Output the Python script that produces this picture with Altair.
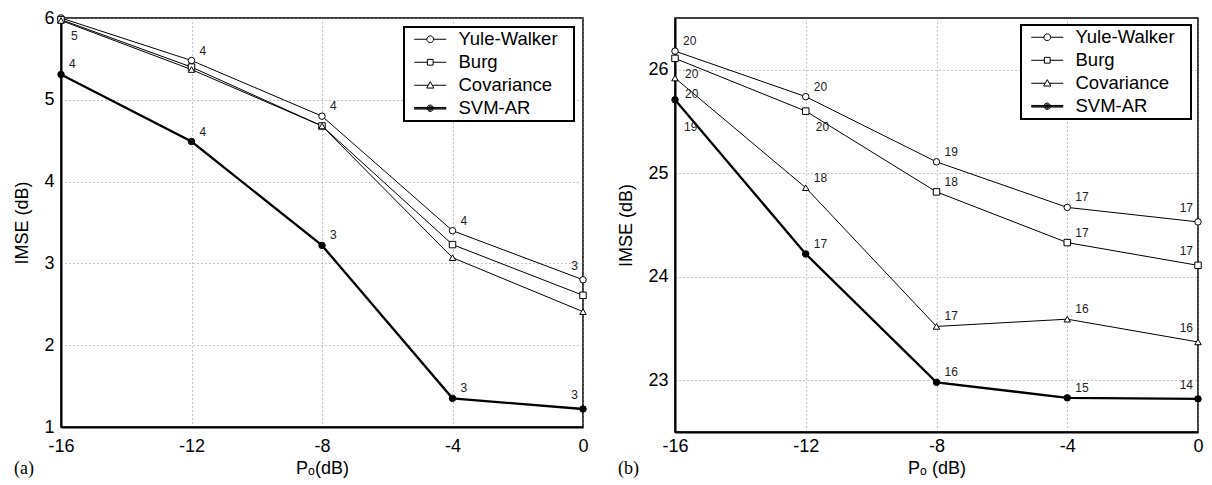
import altair as alt
import pandas as pd

# ---------------- data ----------------
x_po = [-16, -12, -8, -4, 0]
series_names = ["Yule-Walker", "Burg", "Covariance", "SVM-AR"]

# panel (a)
a_yw = [6.00, 5.48, 4.80, 3.40, 2.80]
a_burg = [5.98, 5.40, 4.68, 3.23, 2.61]
a_cov = [5.97, 5.37, 4.68, 3.07, 2.41]
a_svm = [5.31, 4.49, 3.22, 1.35, 1.22]
a_yw_lab = ["", "4", "4", "4", "3"]
a_burg_lab = ["", "", "", "", ""]
a_cov_lab = ["5", "", "", "", ""]
a_svm_lab = ["4", "4", "3", "3", "3"]
a_yw_pos = ["", "ur", "ur", "ur", "ul"]
a_burg_pos = ["", "", "", "", ""]
a_cov_pos = ["lr", "", "", "", ""]
a_svm_pos = ["ur", "ur", "ur", "ur", "ul"]

# panel (b)
b_yw = [26.18, 25.74, 25.11, 24.67, 24.53]
b_burg = [26.11, 25.60, 24.82, 24.33, 24.11]
b_cov = [25.92, 24.86, 23.52, 23.59, 23.37]
b_svm = [25.71, 24.22, 22.98, 22.83, 22.82]
b_yw_lab = ["20", "20", "19", "17", "17"]
b_burg_lab = ["20", "20", "18", "17", "17"]
b_cov_lab = ["20", "18", "17", "16", "16"]
b_svm_lab = ["19", "17", "16", "15", "14"]
b_yw_pos = ["ur", "ur", "ur", "ur", "ul"]
b_burg_pos = ["lr", "lr", "ur", "ur", "ul"]
b_cov_pos = ["lr", "ur", "ur", "ur", "ul"]
b_svm_pos = ["lr2", "ur", "ur", "ur", "ul"]

a_y_ticks = [1, 2, 3, 4, 5, 6]
b_y_ticks = [23, 24, 25, 26]

FONT = "Liberation Sans"

# legend symbols: line + marker drawn with strokes only (unit = sqrt(size)/2 px)
legend_paths = [
    "M-0.25,0H1.33M2.17,0H3.75M2.17,0A0.42,0.42,0,1,1,1.33,0A0.42,0.42,0,1,1,2.17,0Z",
    "M-0.25,0H1.39M2.11,0H3.75M1.39,-0.36H2.11V0.36H1.39Z",
    "M-0.25,0H1.5M2.0,0H3.75M1.75,-0.45L2.2,0.35H1.3Z",
    "M-0.25,0H3.75M-0.25,-0.1H3.75M-0.25,0.1H3.75"
    "M2.15,0A0.4,0.4,0,1,1,1.35,0A0.4,0.4,0,1,1,2.15,0"
    "M2.02,0A0.27,0.27,0,1,1,1.48,0A0.27,0.27,0,1,1,2.02,0"
    "M1.89,0A0.14,0.14,0,1,1,1.61,0A0.14,0.14,0,1,1,1.89,0",
]

offsets = {
    "ur": dict(align="left", dx=8, dy=-10),
    "lr": dict(align="left", dx=10, dy=16),
    "lr2": dict(align="left", dx=9, dy=27),
    "ul": dict(align="right", dx=-5, dy=-14),
}


def build_df(vals, labs, poss):
    rows = []
    for name, v, lb, ps in zip(series_names, vals, labs, poss):
        for x, y, l, p in zip(x_po, v, lb, ps):
            rows.append({"x": x, "y": y, "series": name, "lab": l, "pos": p})
    return pd.DataFrame(rows)


def panel(vals, labs, poss, ydom, yticks, w, h, tag, xlab_pad, xtitle_pad, xtitle, leg_off):
    df = build_df(vals, labs, poss)
    base = alt.Chart(df)
    xenc = alt.X("x:Q", scale=alt.Scale(domain=[-16, 0], nice=False),
                 axis=alt.Axis(values=x_po, title=xtitle, labelExpr="datum.value + ''",
                               labelFlush=False,
                               labelPadding=xlab_pad, titlePadding=xtitle_pad))
    yenc = alt.Y("y:Q", scale=alt.Scale(domain=ydom, nice=False, zero=False),
                 axis=alt.Axis(values=yticks, title="IMSE (dB)", labelExpr="datum.value + ''",
                               titlePadding=12))
    thin = base.transform_filter(alt.datum.series != "SVM-AR").mark_line(
        color="black", strokeWidth=1
    ).encode(x=xenc, y=yenc, detail="series:N")
    thick = base.transform_filter(alt.datum.series == "SVM-AR").mark_line(
        color="black", strokeWidth=2.3
    ).encode(x="x:Q", y="y:Q")
    pts = base.mark_point(filled=True, stroke="black", strokeWidth=1, size=42, opacity=1).encode(
        x="x:Q", y="y:Q",
        shape=alt.Shape("series:N", scale=alt.Scale(domain=series_names,
                                                    range=["circle", "square", "triangle-up", "circle"]),
                        legend=None),
        fill=alt.Fill("series:N", scale=alt.Scale(domain=series_names,
                                                  range=["white", "white", "white", "black"]),
                      legend=None),
    )
    texts = []
    for code, o in offsets.items():
        texts.append(
            base.transform_filter(alt.datum.pos == code).mark_text(
                font=FONT, fontSize=12, color="#222", baseline="middle", **o
            ).encode(x="x:Q", y="y:Q", text="lab:N")
        )
    leg = alt.Legend(title=".", titleOrient="right", titleColor="white", titleFontSize=6,
                     titlePadding=11,
                     orient="top-right", offset=leg_off, padding=3, rowPadding=4,
                     labelFont=FONT, labelFontSize=18.5, labelColor="black", labelOffset=33,
                     symbolSize=256, symbolStrokeColor="black", symbolStrokeWidth=1,
                     symbolFillColor="transparent", strokeColor="black", fillColor="white")
    legend_layer = base.transform_filter("false").mark_point(
        color="black", filled=False, opacity=1, strokeWidth=1
    ).encode(
        shape=alt.Shape("series:N", scale=alt.Scale(domain=series_names, range=legend_paths), legend=leg),
    )
    ch = alt.layer(thin, thick, pts, *texts, legend_layer).resolve_scale(
        shape="independent"
    ).properties(
        width=w, height=h,
        title=alt.TitleParams(tag, orient="bottom", anchor="start", frame="bounds",
                              font="Liberation Serif", fontSize=18, fontWeight="normal",
                              color="black", offset=-17),
    )
    return ch


left = panel([a_yw, a_burg, a_cov, a_svm], [a_yw_lab, a_burg_lab, a_cov_lab, a_svm_lab],
             [a_yw_pos, a_burg_pos, a_cov_pos, a_svm_pos], [1, 6], a_y_ticks, 522, 409, "(a)",
             10, 4, "Pₒ(dB)", 9)
right = panel([b_yw, b_burg, b_cov, b_svm], [b_yw_lab, b_burg_lab, b_cov_lab, b_svm_lab],
              [b_yw_pos, b_burg_pos, b_cov_pos, b_svm_pos], [22.5, 26.5], b_y_ticks, 523, 414, "(b)",
              5, 4, "Pₒ (dB)", 7)

chart = alt.hconcat(left, right, spacing=92, bounds="flush").resolve_scale(
    shape="independent", fill="independent"
).resolve_legend(
    shape="independent", fill="independent"
).properties(
    padding={"left": 5, "top": 0, "right": 0, "bottom": 0}
).configure_axis(
    labelFont=FONT, labelFontSize=18, labelColor="black", labelPadding=7,
    titleFont=FONT, titleFontSize=18, titleFontWeight="normal", titleColor="black",
    domainColor="black", domainWidth=2, ticks=False,
    gridColor="#8a8a8a", gridDash=[1, 3], gridWidth=1,
).configure_legend(
    strokeWidth=2
).configure_view(
    stroke="black", strokeWidth=1.5
)

chart.save("out.html", embed_options={"renderer": "svg", "actions": False})
